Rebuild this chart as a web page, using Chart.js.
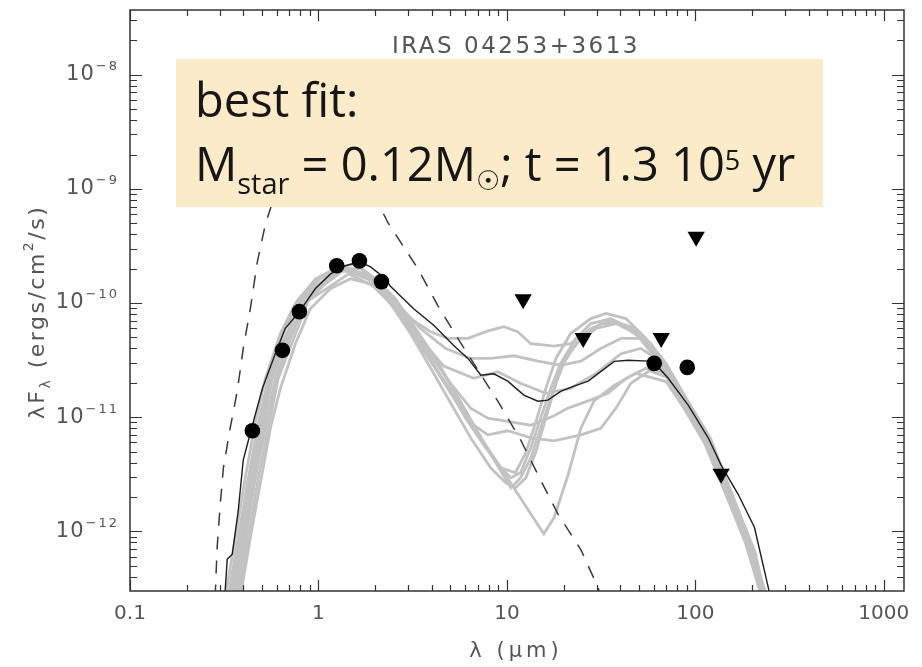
<!DOCTYPE html>
<html>
<head>
<meta charset="utf-8">
<script src="https://cdn.jsdelivr.net/npm/chart.js@4.4.1/dist/chart.umd.min.js"></script>
<style>
  html, body { margin: 0; padding: 0; background: #fff; }
  #wrap { width: 922px; height: 667px; }
</style>
</head>
<body>
<div id="wrap"><canvas id="sed_canvas" width="922" height="667"></canvas></div>
<script>
// wavelength in micron, lambda*F_lambda in ergs/cm2/s
var photLam  = [0.446, 0.644, 0.792, 1.25, 1.65, 2.16, 60.5, 90.6];
var photFlux = [7.6e-12, 3.85e-11, 8.4e-11, 2.12e-10, 2.34e-10, 1.54e-10, 2.96e-11, 2.73e-11];

// upper limits (triangles)
var limLam  = [12.2, 25.4, 65.9, 101, 137];
var limFlux = [1.08e-10, 4.95e-11, 4.95e-11, 3.8e-10, 3.2e-12];

// best fit model (black)
var bestLam  = [0.318, 0.328, 0.349, 0.375, 0.399, 0.440, 0.504, 0.590, 0.667, 0.792, 0.964, 1.16, 1.39, 1.65, 1.89, 2.27, 2.41, 3.20, 4.09, 5.22, 6.21, 7.28, 8.53, 10.1, 12.3, 14.6, 16.5, 19.4, 22.7, 27.0, 31.6, 37.1, 44.0, 56.2, 60.5, 71.8, 91.8, 117, 137, 169, 206, 244, 252];
var bestFlux = [2.6e-13, 5.7e-13, 6.3e-13, 1.5e-12, 4.2e-12, 7.8e-12, 1.78e-11, 3.6e-11, 6.0e-11, 8.4e-11, 1.34e-10, 1.80e-10, 2.12e-10, 2.30e-10, 2.07e-10, 1.63e-10, 1.40e-10, 8.9e-11, 6.4e-11, 4.25e-11, 3.27e-11, 2.33e-11, 2.4e-11, 2.07e-11, 1.56e-11, 1.38e-11, 1.41e-11, 1.69e-11, 1.87e-11, 2.07e-11, 2.52e-11, 3.08e-11, 3.15e-11, 3.1e-11, 3.0e-11, 2.19e-11, 1.27e-11, 6.6e-12, 3.8e-12, 2.1e-12, 1.08e-12, 3.2e-13, 2.5e-13];

// stellar photosphere (dashed)
var starLam  = [0.283, 0.290, 0.301, 0.313, 0.340, 0.371, 0.399, 0.435, 0.474, 0.523, 0.65, 0.85, 1.1, 1.5, 2.0, 2.33, 3.37, 4.30, 5.49, 8.95, 11.9, 15.2, 18.7, 24.8, 30.5, 31.6];
var starFlux = [2.63e-13, 7.2e-13, 1.7e-12, 3.6e-12, 8.0e-12, 1.7e-11, 4.0e-11, 8.9e-11, 2.3e-10, 4.9e-10, 1.5e-9, 2.8e-9, 3.2e-9, 2.4e-9, 8.5e-10, 5.1e-10, 2.0e-10, 9.5e-11, 4.9e-11, 1.38e-11, 6.2e-12, 2.75e-12, 1.41e-12, 6.8e-13, 3.2e-13, 2.6e-13];

// other good fits (grey), [lambda, lambdaF]
var modelA1 = [[0.340,2.65e-13],[0.385,8.8e-13],[0.435,2.94e-12],[0.492,9.8e-12],[0.556,2.42e-11],[0.667,5.98e-11],[0.801,1.09e-10],[1.02,1.63e-10],[1.31,2.0e-10],[1.67,2.0e-10],[2.13,1.48e-10],[2.73,8.9e-11],[3.48,4.9e-11],[4.45,2.68e-11],[5.68,1.33e-11],[7.26,6.6e-12],[9.27,3.6e-12],[10.5,2.94e-12],[11.8,3.26e-12],[13.4,5.4e-12],[15.1,9.8e-12],[17.1,1.79e-11],[19.3,2.96e-11],[23.2,4.9e-11],[27.9,6.6e-11],[35.6,7.3e-11],[45.5,5.98e-11],[58.1,4.0e-11],[74.2,2.19e-11],[94.8,9.8e-12],[128,4.4e-12],[163,1.61e-12],[208,5.9e-13],[235,2.65e-13]];
var modelA2 = [[0.320,2.65e-13],[0.362,8.8e-13],[0.409,2.94e-12],[0.462,8.9e-12],[0.523,2.19e-11],[0.628,5.4e-11],[0.754,9.9e-11],[0.964,1.63e-10],[1.23,2.0e-10],[1.57,2.21e-10],[2.01,1.63e-10],[2.56,1.09e-10],[3.28,5.98e-11],[4.19,3.27e-11],[5.35,1.62e-11],[6.83,8.0e-12],[8.72,4.0e-12],[10.5,2.41e-12],[11.8,2.94e-12],[13.4,4.4e-12],[15.1,8.0e-12],[17.1,1.47e-11],[19.3,2.68e-11],[23.2,4.4e-11],[29.7,5.98e-11],[37.9,6.6e-11],[48.4,5.4e-11],[61.8,3.27e-11],[78.9,1.62e-11],[106,7.3e-12],[136,2.94e-12],[172,1.08e-12],[220,3.95e-13],[230,2.65e-13]];
var modelA3 = [[0.362,2.65e-13],[0.409,8.8e-13],[0.462,2.94e-12],[0.523,8.0e-12],[0.590,1.98e-11],[0.709,4.9e-11],[0.852,9.9e-11],[1.09,1.48e-10],[1.39,2.0e-10],[1.78,1.80e-10],[2.27,1.21e-10],[2.90,6.6e-11],[3.70,3.6e-11],[4.73,1.98e-11],[6.04,9.8e-12],[7.72,5.4e-12],[9.27,3.6e-12],[11.1,3.26e-12],[12.6,4.9e-12],[14.2,8.9e-12],[16.1,1.79e-11],[18.2,3.27e-11],[21.8,5.4e-11],[27.9,7.3e-11],[33.5,8.1e-11],[42.8,7.3e-11],[54.7,4.9e-11],[69.8,2.96e-11],[89.2,1.47e-11],[120,6.6e-12],[152,2.41e-12],[195,8.0e-13],[240,2.65e-13]];
var modelA4 = [[0.385,2.65e-13],[0.435,8.8e-13],[0.492,2.66e-12],[0.556,8.0e-12],[0.628,1.79e-11],[0.754,4.4e-11],[0.905,8.9e-11],[1.16,1.34e-10],[1.48,1.63e-10],[1.89,1.48e-10],[2.41,9.9e-11],[3.08,5.4e-11],[3.94,2.68e-11],[5.03,1.33e-11],[6.42,6.6e-12],[8.20,3.6e-12],[9.86,2.66e-12],[11.1,2.41e-12],[12.6,2.94e-12],[14.2,4.9e-12],[16.1,9.8e-12],[18.2,1.98e-11],[20.5,3.27e-11],[24.7,4.9e-11],[31.5,6.6e-11],[40.3,6.6e-11],[51.4,4.9e-11],[65.7,2.96e-11],[83.9,1.33e-11],[112,5.9e-12],[144,2.18e-12],[184,8.0e-13],[225,2.65e-13]];
var modelC  = [[0.332,2.65e-13],[0.375,8.8e-13],[0.425,2.94e-12],[0.480,8.9e-12],[0.542,2.19e-11],[0.644,5.4e-11],[0.783,1.09e-10],[1.0,1.63e-10],[1.31,1.92e-10],[1.71,1.80e-10],[2.27,1.21e-10],[2.73,8.1e-11],[5.03,1.62e-11],[9.27,3.6e-12],[15.7,9.5e-13],[17.8,1.32e-12],[21.1,3.1e-12],[24.7,8.0e-12],[29.0,1.39e-11],[37.1,1.9e-11],[48.4,2.42e-11],[69.8,2.05e-11],[94.8,9.8e-12],[127,4.3e-12],[163,1.46e-12],[208,5.3e-13],[229,2.65e-13]];
var modelB1 = [[0.349,2.65e-13],[0.435,2.94e-12],[0.556,2.3e-11],[0.801,1.09e-10],[1.31,2.08e-10],[1.89,1.70e-10],[2.41,1.09e-10],[3.08,7.3e-11],[3.94,5.6e-11],[4.85,4.9e-11],[6.21,4.9e-11],[7.93,5.7e-11],[9.64,6.2e-11],[11.4,5.6e-11],[13.4,4.4e-11],[17.8,4.2e-11],[21.8,4.4e-11],[27.9,5.98e-11],[35.6,7.0e-11],[45.5,6.2e-11],[58.1,4.4e-11],[74.2,2.42e-11],[94.8,1.09e-11],[127,4.9e-12],[163,1.78e-12],[208,6.5e-13],[234,2.65e-13]];
var modelB2 = [[0.366,2.65e-13],[0.462,2.94e-12],[0.590,2.19e-11],[0.852,1.09e-10],[1.39,2.0e-10],[2.01,1.55e-10],[2.56,1.03e-10],[3.48,5.98e-11],[4.73,4.0e-11],[6.42,3.27e-11],[8.20,3.27e-11],[10.9,3.45e-11],[14.6,3.1e-11],[19.3,2.85e-11],[24.7,3.1e-11],[31.5,4.0e-11],[40.3,4.9e-11],[51.4,4.9e-11],[65.7,3.4e-11],[83.9,1.62e-11],[112,7.0e-12],[144,2.5e-12],[184,8.8e-13],[227,2.65e-13]];
var modelB3 = [[0.375,2.65e-13],[0.480,2.94e-12],[0.612,2.19e-11],[0.885,1.05e-10],[1.45,1.80e-10],[2.08,1.34e-10],[2.73,7.6e-11],[3.70,4.0e-11],[5.03,1.98e-11],[6.42,1.20e-11],[7.93,9.8e-12],[10.1,9.2e-12],[13.4,8.5e-12],[17.8,1.03e-11],[21.1,1.20e-11],[27.0,1.39e-11],[34.4,1.62e-11],[42.8,2.19e-11],[54.7,2.68e-11],[69.8,2.42e-11],[89.2,1.33e-11],[120,5.9e-12],[152,2.18e-12],[195,7.2e-13],[229,2.65e-13]];
var modelB4 = [[0.357,2.65e-13],[0.451,2.94e-12],[0.569,2.19e-11],[0.822,1.09e-10],[1.34,2.0e-10],[1.94,1.55e-10],[2.56,8.9e-11],[3.48,4.4e-11],[4.73,1.98e-11],[6.42,8.9e-12],[7.93,7.0e-12],[10.1,7.6e-12],[13.4,6.6e-12],[17.8,6.2e-12],[24.7,7.0e-12],[31.5,8.0e-12],[37.9,1.2e-11],[45.5,1.98e-11],[56.9,2.55e-11],[72.8,2.19e-11],[92.9,1.15e-11],[125,5.2e-12],[160,1.78e-12],[204,5.9e-13],[229,2.65e-13]];
var modelB5 = [[0.353,2.65e-13],[0.446,2.94e-12],[0.562,2.19e-11],[0.812,1.09e-10],[1.33,2.0e-10],[1.91,1.63e-10],[2.50,9.9e-11],[3.40,5.1e-11],[4.62,2.8e-11],[6.67,2.19e-11],[8.95,2.5e-11],[11.8,1.98e-11],[16.1,1.62e-11],[21.8,1.79e-11],[29.7,2.42e-11],[40.3,3.6e-11],[51.4,4.0e-11],[65.7,3.1e-11],[83.9,1.55e-11],[112,6.6e-12],[144,2.41e-12],[184,8.4e-13],[227,2.65e-13]];

var greyModels = [modelA1, modelA2, modelA3, modelA4, modelC, modelB1, modelB2, modelB3, modelB4, modelB5];

var xDecades = [0.1, 1, 10, 100, 1000];
var yDecades = [1e-12, 1e-11, 1e-10, 1e-9, 1e-8];
var xMin = 0.1, xMax = 1280;
var yMin = 3.12e-13, yMax = 3.69e-8;

function toXY(lams, fluxes) {
    var out = [];
    for (var i = 0; i < lams.length; i++) out.push({x: lams[i], y: fluxes[i]});
    return out;
}
function pairsXY(arr) {
    return arr.map(function(p){ return {x: p[0], y: p[1]}; });
}

// draw a run of text pieces (size, y-shift) one after the other
function drawRuns(c, runs, x, y, spacing) {
    var cx = x;
    runs.forEach(function(r){
        c.font = r.font;
        c.letterSpacing = (spacing || 0) + 'px';
        c.fillText(r.t, cx, y + (r.dy || 0));
        cx += c.measureText(r.t).width;
    });
    return cx;
}
function runsWidth(c, runs, spacing) {
    var w = 0;
    runs.forEach(function(r){
        c.font = r.font;
        c.letterSpacing = (spacing || 0) + 'px';
        w += c.measureText(r.t).width;
    });
    return w;
}

var idlFont = '"DejaVu Sans", sans-serif';

var sedDecor = {
    id: 'sedDecor',
    afterDatasetsDraw: function(chart) {
        var c = chart.ctx;
        c.save();
        // best fit note
        c.fillStyle = '#fcebc9';
        c.fillRect(176, 59, 647, 148);
        c.fillStyle = '#161616';
        c.textAlign = 'left';
        c.textBaseline = 'alphabetic';
        var big = '47px "Open Sans", sans-serif';
        var small = '29px "Open Sans", sans-serif';
        drawRuns(c, [{t: 'best fit:', font: big}], 195, 117);
        drawRuns(c, [
            {t: 'M', font: big},
            {t: 'star', font: small, dy: 13},
            {t: ' = 0.12M', font: big},
            {t: '\u2609', font: 'bold 27px "DejaVu Sans", sans-serif', dy: 9},
            {t: '; t = 1.3 10', font: big},
            {t: '5', font: '27px "Open Sans", sans-serif', dy: -11},
            {t: ' yr', font: big}
        ], 195, 181);
        // object name
        c.fillStyle = '#555';
        c.font = '23px ' + idlFont;
        c.letterSpacing = '2.5px';
        c.textAlign = 'center';
        c.fillText('IRAS 04253+3613', 516, 53);
        c.restore();
    },
    afterDraw: function(chart) {
        var c = chart.ctx, a = chart.chartArea;
        var xs = chart.scales.x, ys = chart.scales.y;
        c.save();
        c.strokeStyle = '#333';
        c.lineWidth = 1.5;
        c.strokeRect(a.left, a.top, a.right - a.left, a.bottom - a.top);
        c.lineWidth = 1.2;
        c.beginPath();
        var e, m, v, p, len;
        for (e = -1; e <= 3; e++) {
            for (m = 1; m <= 9; m++) {
                v = m * Math.pow(10, e);
                if (v < xMin || v > xMax) continue;
                p = Math.round(xs.getPixelForValue(v)) + 0.5;
                len = m === 1 ? 11 : 6;
                c.moveTo(p, a.bottom); c.lineTo(p, a.bottom - len);
                c.moveTo(p, a.top); c.lineTo(p, a.top + len);
            }
        }
        for (e = -13; e <= -8; e++) {
            for (m = 1; m <= 9; m++) {
                v = m * Math.pow(10, e);
                if (v < yMin || v > yMax) continue;
                p = Math.round(ys.getPixelForValue(v)) + 0.5;
                len = m === 1 ? 12 : 7;
                c.moveTo(a.left, p); c.lineTo(a.left + len, p);
                c.moveTo(a.right, p); c.lineTo(a.right - len, p);
            }
        }
        c.stroke();

        // y tick labels 10^n
        c.fillStyle = '#555';
        c.textBaseline = 'middle';
        c.textAlign = 'left';
        yDecades.forEach(function(d){
            var py = ys.getPixelForValue(d);
            var ex = '\u2212' + String(Math.round(-Math.log10(d)));
            c.font = '13px ' + idlFont;
            c.letterSpacing = '2px';
            var ew = c.measureText(ex).width;
            c.fillText(ex, 119 - ew, py - 8);
            c.font = '21px ' + idlFont;
            c.letterSpacing = '1px';
            var bw = c.measureText('10').width;
            c.fillText('10', 119 - ew - bw - 1, py);
        });

        // axis titles
        c.textBaseline = 'alphabetic';
        var xr = [{t: '\u03bb (\u03bcm)', font: '21px ' + idlFont}];
        var xw = runsWidth(c, xr, 4);
        drawRuns(c, xr, 516 - xw / 2, 657, 4);

        c.translate(44, 312);
        c.rotate(-Math.PI / 2);
        var yr = [
            {t: '\u03bbF', font: '22px ' + idlFont},
            {t: '\u03bb', font: '14px ' + idlFont, dy: 6},
            {t: ' (ergs/cm', font: '22px ' + idlFont},
            {t: '2', font: '14px ' + idlFont, dy: -11},
            {t: '/s)', font: '22px ' + idlFont}
        ];
        var yw = runsWidth(c, yr, 2.5);
        drawRuns(c, yr, -yw / 2, 0, 2.5);
        c.restore();
    }
};

var datasets = [];
datasets.push({
    label: 'photometry', data: toXY(photLam, photFlux), showLine: false,
    pointStyle: 'circle', pointRadius: 7.8, backgroundColor: '#000', borderWidth: 0
});
datasets.push({
    label: 'upper limits', data: toXY(limLam, limFlux), showLine: false,
    pointStyle: 'triangle', rotation: 180, pointRadius: 10, backgroundColor: '#000', borderWidth: 0
});
datasets.push({
    label: 'best fit', data: toXY(bestLam, bestFlux), showLine: true,
    borderColor: '#1e1e1e', borderWidth: 1.4, pointRadius: 0, fill: false
});
datasets.push({
    label: 'photosphere', data: toXY(starLam, starFlux), showLine: true,
    borderColor: '#3a3a3a', borderWidth: 1.5, borderDash: [13, 11], pointRadius: 0, fill: false
});
greyModels.forEach(function(mdl, i){
    datasets.push({
        label: 'model ' + (i + 1), data: pairsXY(mdl), showLine: true,
        borderColor: '#c2c2c2', borderWidth: 2.8, pointRadius: 0, fill: false
    });
});

var ctx = document.getElementById('sed_canvas');
var chart = new Chart(ctx, {
    type: 'scatter',
    data: {datasets: datasets},
    options: {
        responsive: false,
        animation: false,
        devicePixelRatio: 1,
        layout: {padding: {left: 0, top: 10, right: 18, bottom: 0}},
        plugins: {legend: {display: false}, tooltip: {enabled: false}, title: {display: false}},
        elements: {line: {tension: 0}},
        scales: {
            x: {
                type: 'logarithmic', min: xMin, max: xMax,
                afterBuildTicks: function(s){ s.ticks = xDecades.map(function(v){ return {value: v}; }); },
                afterFit: function(s){ s.height = 76; },
                grid: {display: false, drawTicks: false},
                border: {display: false},
                ticks: {
                    autoSkip: false, maxRotation: 0, padding: 11,
                    color: '#555', font: {family: 'DejaVu Sans', size: 20},
                    callback: function(v){ return String(v); }
                }
            },
            y: {
                type: 'logarithmic', min: yMin, max: yMax,
                afterBuildTicks: function(s){ s.ticks = yDecades.map(function(v){ return {value: v}; }); },
                afterFit: function(s){ s.width = 130; },
                grid: {display: false, drawTicks: false},
                border: {display: false},
                ticks: {display: false}
            }
        }
    },
    plugins: [sedDecor]
});
</script>
</body>
</html>
